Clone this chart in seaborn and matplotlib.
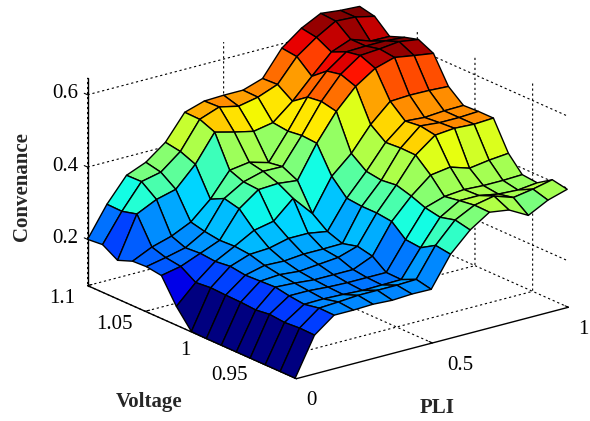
import numpy as np
import seaborn as sns
import matplotlib
import matplotlib.pyplot as plt
from matplotlib.colors import Normalize

# grid of the surface
pli = [0, .071, .143, .214, .286, .357, .429, .5, .571, .643, .714, .786, .857, .929, 1]
voltage = [.92, .933, .946, .959, .971, .984, .997, 1.01, 1.023, 1.036, 1.049, 1.061, 1.074, 1.087, 1.1]

# one row per voltage, low to high
convenance = [
    [.072, .177, .218, .218, .220, .217, .220, .219, .302, .355, .390, .382, .353, .381, .397],
    [.072, .178, .219, .222, .226, .226, .226, .228, .308, .364, .391, .402, .384, .393, .405],
    [.072, .175, .211, .212, .210, .207, .208, .209, .283, .353, .385, .385, .375, .372, .378],
    [.072, .179, .216, .216, .212, .210, .210, .210, .287, .361, .378, .383, .380, .380, .382],
    [.072, .174, .223, .220, .215, .215, .215, .238, .320, .376, .420, .428, .411, .419, .424],
    [.072, .177, .221, .225, .220, .225, .230, .247, .325, .388, .457, .498, .503, .500, .503],
    [.072, .178, .219, .232, .230, .235, .235, .236, .325, .383, .458, .505, .500, .500, .503],
    [.073, .180, .225, .244, .247, .260, .260, .251, .329, .389, .455, .500, .496, .500, .501],
    [.124, .176, .220, .248, .278, .289, .338, .282, .371, .420, .486, .536, .539, .538, .535],
    [.191, .202, .224, .246, .319, .358, .361, .355, .444, .518, .573, .609, .625, .616, .608],
    [.197, .208, .221, .252, .329, .361, .376, .375, .447, .527, .588, .626, .630, .636, .628],
    [.195, .220, .236, .261, .310, .376, .384, .369, .442, .522, .580, .619, .621, .621, .617],
    [.179, .293, .319, .333, .388, .463, .449, .437, .447, .492, .547, .600, .621, .602, .601],
    [.204, .282, .350, .362, .405, .480, .500, .488, .499, .520, .583, .622, .653, .650, .638],
    [.200, .283, .349, .371, .412, .481, .498, .500, .500, .518, .588, .629, .656, .650, .647],
]

pli_ticks = [0, .5, 1]
voltage_ticks = [.95, 1, 1.05, 1.1]
voltage_labels = ['0.95', '1', '1.05', '1.1']
conv_ticks = [.2, .4, .6]

sns.set_style("white")
plt.rcParams['font.family'] = ['Liberation Serif', 'DejaVu Serif']
jet = matplotlib.colormaps['jet']

fig = plt.figure(figsize=(5.9, 4.21), dpi=100)
ax = fig.add_axes([.2095, .0572, .6746, .9454], projection='3d', proj_type='ortho')
ax.view_init(elev=20, azim=-127.5)
ax.set_box_aspect((1, 1, .645), zoom=1.3)

X, Y = np.meshgrid(pli, voltage)
Z = np.array(convenance)
norm = Normalize(.072, .635)
surf = ax.plot_surface(X, Y, Z, rstride=1, cstride=1, facecolors=jet(norm(Z)), shade=False)
surf.set_edgecolor('k')
surf.set_linewidth(1)
surf.set_clip_on(False)

ax.set_xlim(0, 1, view_margin=0)
ax.set_ylim(.919, 1.1, view_margin=0)
ax.set_zlim(.072, .647, view_margin=0)
ax.set_xticks(pli_ticks, ['0', '0.5', '1'])
ax.set_yticks(voltage_ticks, voltage_labels)
ax.set_zticks(conv_ticks, ['0.2', '0.4', '0.6'])

for axis in (ax.xaxis, ax.yaxis, ax.zaxis):
    axis.set_pane_color((1, 1, 1, 0))
    axis.pane.set_edgecolor((1, 1, 1, 0))
    axis.line.set_color('k')
    axis.line.set_linewidth(1)
    axis._axinfo['grid'].update(color='k', linestyle=(0, (2, 2.5)), linewidth=.8)
    axis._axinfo['tick'].update(inward_factor=0, outward_factor=.2)
    axis.set_tick_params(labelsize=15, colors='k', width=.8)

# z ticks point along the voltage direction here
ax.zaxis._AXINFO = {k: dict(v) for k, v in ax.zaxis._AXINFO.items()}
ax.zaxis._AXINFO['z']['tickdir'] = 1
ax.zaxis.set_tick_params(pad=-1)
ax.xaxis.set_tick_params(pad=3)
ax.yaxis.set_tick_params(pad=-1)
for tick in ax.xaxis.get_major_ticks():
    tick.label1.set_va('center')
ax.xaxis.get_major_ticks()[1].label1.set_ha('left')
for tick in ax.yaxis.get_major_ticks():
    tick.label1.set_va('center')
    tick.label1.set_ha('right')
for tick in ax.zaxis.get_major_ticks():
    tick.label1.set_va('center')

fig.text(437 / 590, 1 - 408 / 421, 'PLI', fontsize=15, fontweight='bold', ha='center', va='center')
fig.text(149 / 590, 1 - 402 / 421, 'Voltage', fontsize=15, fontweight='bold', ha='center', va='center')
fig.text(22 / 590, 1 - 187 / 421, 'Convenance', fontsize=15, fontweight='bold', rotation=90, ha='center', va='center')

fig.savefig('out.png', dpi=100)
